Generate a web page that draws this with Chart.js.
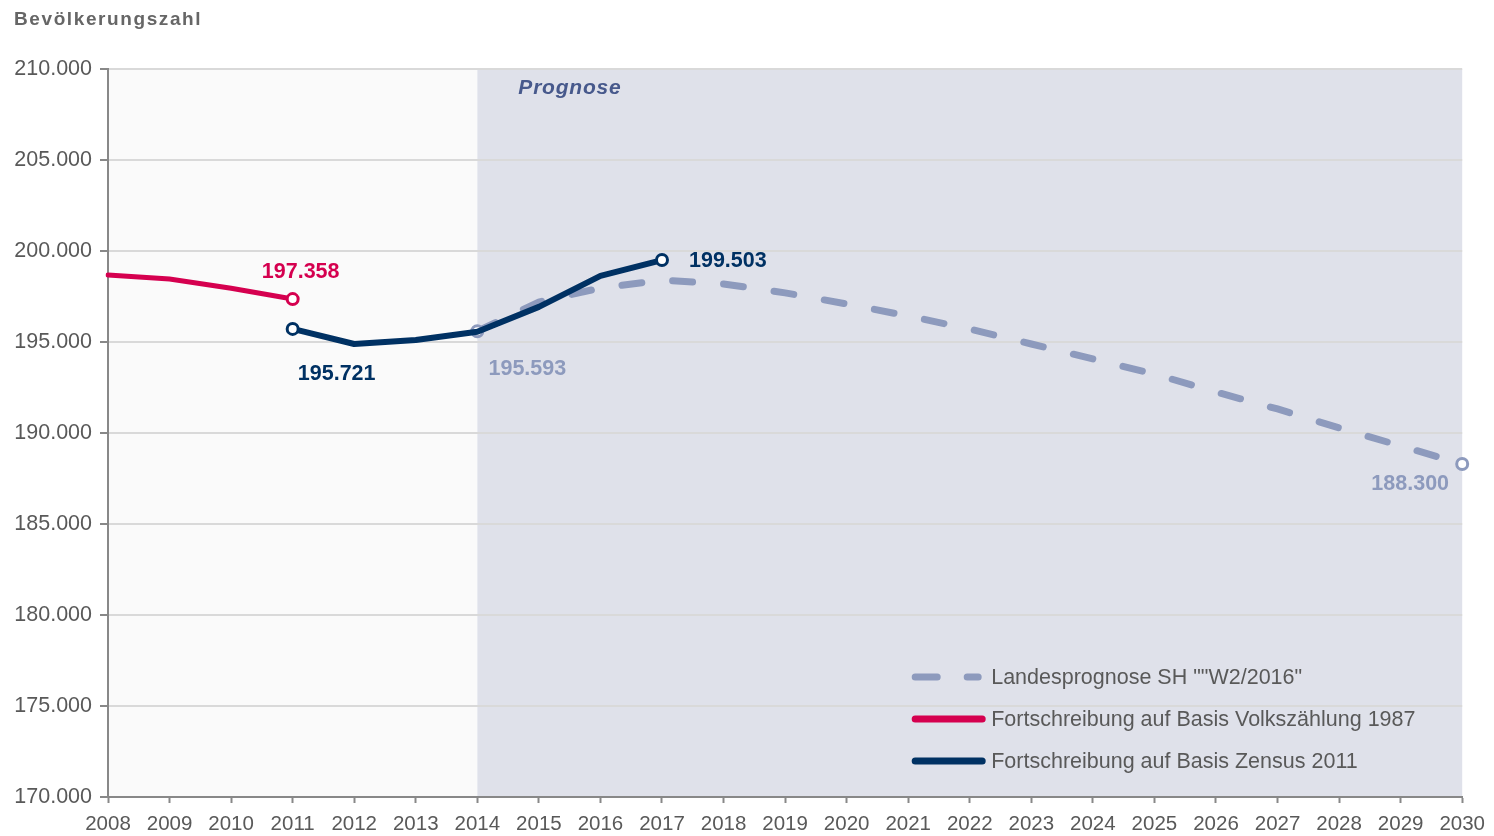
<!DOCTYPE html>
<html>
<head>
<meta charset="utf-8">
<script src="https://cdn.jsdelivr.net/npm/chart.js@4.4.0/dist/chart.umd.min.js"></script>
<style>
html,body{margin:0;padding:0;background:#fff;}
#wrap{width:1494px;height:836px;position:relative;}
</style>
</head>
<body>
<div id="wrap"><canvas id="c" width="1494" height="836"></canvas></div>
<script>
const years = ['2008','2009','2010','2011','2012','2013','2014','2015','2016','2017','2018','2019','2020','2021','2022','2023','2024','2025','2026','2027','2028','2029','2030'];
const volkszaehlung = [198680,198460,197950,197358,null,null,null,null,null,null,null,null,null,null,null,null,null,null,null,null,null,null,null];
const zensus = [null,null,null,195721,194890,195110,195560,196930,198630,199503,null,null,null,null,null,null,null,null,null,null,null,null,null];
const landesprognose = [null,null,null,null,null,null,195593,197200,197970,198400,198190,197700,197090,196430,195710,194890,194070,193240,192250,191320,190280,189290,188300];
const yTicks = [170000,175000,180000,185000,190000,195000,200000,205000,210000];
const seriesNames = ['Landesprognose SH ""W2/2016"','Fortschreibung auf Basis Volkszählung 1987','Fortschreibung auf Basis Zensus 2011'];
const titleText = 'Bevölkerungszahl';
const prognoseText = 'Prognose';
const prognoseStart = '2014';

const FONT = '"Liberation Sans", Arial, sans-serif';
const C_RED = '#d5004f', C_NAVY = '#003163', C_DASH = '#8d9abd';

function fmt(v){ return String(v).replace(/\B(?=(\d{3})+(?!\d))/g,'.'); }
function firstIdx(a){ return a.findIndex(v=>v!==null); }
function lastIdx(a){ for(let i=a.length-1;i>=0;i--) if(a[i]!==null) return i; return -1; }
function endRadius(arr, useFirst){
  return ctx => (ctx.dataIndex===lastIdx(arr) || (useFirst && ctx.dataIndex===firstIdx(arr))) ? 5.5 : 0;
}

const bgPlugin = {
  id:'bg',
  beforeDraw(chart){
    const {ctx, chartArea:a, scales:{x}} = chart;
    const xs = x.getPixelForValue(years.indexOf(prognoseStart));
    ctx.save();
    ctx.fillStyle='#fafafa'; ctx.fillRect(a.left,a.top,xs-a.left,a.bottom-a.top);
    ctx.fillStyle='#dfe1ea'; ctx.fillRect(xs,a.top,a.right-xs,a.bottom-a.top);
    ctx.restore();
  },
  afterDatasetsDraw(chart){
    const {ctx, chartArea:a, scales:{x,y}} = chart;
    ctx.save();
    // title
    ctx.fillStyle='#666666'; ctx.font='bold 19px '+FONT; ctx.textBaseline='middle'; ctx.textAlign='left';
    ctx.letterSpacing='1.6px';
    ctx.fillText(titleText,14,20);
    // Prognose
    const xs = x.getPixelForValue(years.indexOf(prognoseStart));
    ctx.fillStyle='#47598c'; ctx.font='italic bold 21px '+FONT; ctx.letterSpacing='0.8px';
    ctx.fillText(prognoseText, xs+41, a.top+19);
    ctx.letterSpacing='0px';
    // value labels
    const lab = (arr, idx, color, dx, dy, align) => {
      const px = x.getPixelForValue(idx), py = y.getPixelForValue(arr[idx]);
      ctx.fillStyle=color; ctx.font='bold 21.5px '+FONT; ctx.textAlign=align; ctx.textBaseline='middle';
      ctx.fillText(fmt(arr[idx]), px+dx, py+dy);
    };
    lab(volkszaehlung, lastIdx(volkszaehlung), C_RED, 8, -27, 'center');
    lab(zensus, firstIdx(zensus), C_NAVY, 44, 45, 'center');
    lab(zensus, lastIdx(zensus), C_NAVY, 27, 1, 'left');
    lab(landesprognose, firstIdx(landesprognose), C_DASH, 50, 38, 'center');
    lab(landesprognose, lastIdx(landesprognose), C_DASH, -52, 20, 'center');
    // legend
    const rows = [
      {t:seriesNames[0], c:C_DASH, dash:true},
      {t:seriesNames[1], c:C_RED},
      {t:seriesNames[2], c:C_NAVY}
    ];
    const lx = a.right-551, ly0 = a.bottom-120;
    rows.forEach((r,i)=>{
      const yy = ly0 + i*42;
      ctx.strokeStyle=r.c; ctx.lineWidth=7; ctx.lineCap='round';
      ctx.beginPath();
      if(r.dash){ ctx.moveTo(lx+4,yy); ctx.lineTo(lx+26,yy); ctx.moveTo(lx+56,yy); ctx.lineTo(lx+67,yy); }
      else { ctx.moveTo(lx+4,yy); ctx.lineTo(lx+71,yy); }
      ctx.stroke();
      ctx.fillStyle='#595959'; ctx.font='21.5px '+FONT; ctx.textAlign='left'; ctx.textBaseline='middle';
      ctx.fillText(r.t, lx+80, yy+1);
    });
    ctx.restore();
  }
};

new Chart(document.getElementById('c'), {
  type:'line',
  data:{
    labels:years,
    datasets:[
      {label:seriesNames[2], data:zensus, borderColor:C_NAVY, borderWidth:6, order:0,
       pointRadius:endRadius(zensus,true), pointBackgroundColor:'#fff', pointBorderColor:C_NAVY, pointBorderWidth:3,
       borderCapStyle:'round', borderJoinStyle:'round', spanGaps:false},
      {label:seriesNames[1], data:volkszaehlung, borderColor:C_RED, borderWidth:5, order:1,
       pointRadius:endRadius(volkszaehlung,false), pointBackgroundColor:'#fff', pointBorderColor:C_RED, pointBorderWidth:3,
       borderCapStyle:'round'},
      {label:seriesNames[0], data:landesprognose, borderColor:C_DASH, borderWidth:7, borderDash:[20,31], order:2,
       pointRadius:endRadius(landesprognose,true), pointBackgroundColor:'#fff', pointBorderColor:C_DASH, pointBorderWidth:3,
       borderCapStyle:'round'}
    ]
  },
  options:{
    responsive:false, animation:false,
    layout:{padding:{top:69,right:31,left:0,bottom:0}},
    plugins:{legend:{display:false}, tooltip:{enabled:false}, title:{display:false}},
    scales:{
      x:{
        offset:false,
        grid:{drawOnChartArea:false, drawTicks:true, tickLength:6, tickColor:'#888888', tickWidth:2},
        border:{color:'#888888', width:2},
        ticks:{color:'#595959', font:{family:FONT,size:20.5}, padding:9, maxRotation:0, autoSkip:false},
        afterFit(s){ s.height = 39; }
      },
      y:{
        min:170000, max:210000,
        afterBuildTicks(s){ s.ticks = yTicks.map(v=>({value:v})); },
        grid:{color:'#d9d9d9', lineWidth:2, tickLength:8, tickColor:'#888888', tickWidth:2},
        border:{color:'#888888', width:2},
        ticks:{color:'#595959', font:{family:FONT,size:21.5}, padding:8, callback:v=>fmt(v)},
        afterFit(s){ s.width = 108; }
      }
    }
  },
  plugins:[bgPlugin]
});
</script>
</body>
</html>
